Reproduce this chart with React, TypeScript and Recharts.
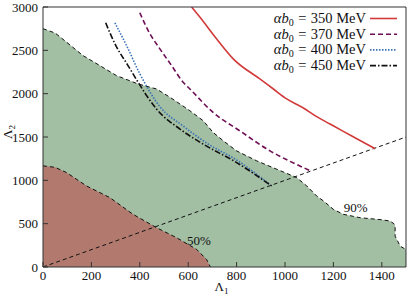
import React from 'react';
import { ComposedChart, Area, Line, XAxis, YAxis, ReferenceDot, Legend } from 'recharts';

const xTicks = [0, 200, 400, 600, 800, 1000, 1200, 1400];
const yTicks = [0, 500, 1000, 1500, 2000, 2500, 3000];

// 90% confidence region boundary [Λ1, Λ2]
const region90: [number, number][] = [
  [0, 2750], [50, 2700], [97, 2595], [165, 2440], [235, 2324], [304, 2208], [393, 2112],
  [469, 2054], [524, 1960], [607, 1803], [662, 1688], [703, 1553], [745, 1456], [800, 1340],
  [883, 1225], [966, 1128], [1048, 1032], [1090, 935], [1131, 819], [1160, 760], [1200, 665],
  [1241, 608], [1310, 569], [1400, 545], [1434, 530], [1450, 500], [1455, 472], [1455, 356],
  [1476, 240], [1500, 202],
];
// 50% confidence region boundary
const region50: [number, number][] = [
  [0, 1167], [50, 1150], [97, 1090], [180, 935], [276, 801], [372, 608], [469, 454],
  [552, 338], [635, 203], [676, 87], [690, 10], [692, 0],
];
const diagonal: [number, number][] = [[0, 0], [1500, 1500]];

const curve350: [number, number][] = [
  [614, 3000], [648, 2884], [717, 2633], [786, 2402], [896, 2170], [952, 2054], [1007, 1939],
  [1076, 1835], [1131, 1735], [1186, 1650], [1241, 1565], [1310, 1460], [1372, 1365],
];
const curve370: [number, number][] = [
  [400, 2934], [440, 2700], [483, 2517], [530, 2330], [579, 2132], [607, 2054], [703, 1784],
  [814, 1570], [938, 1340], [1020, 1220], [1110, 1105],
];
const curve400: [number, number][] = [
  [297, 2818], [345, 2556], [400, 2230], [483, 1850], [580, 1625], [676, 1430], [800, 1235],
  [940, 945],
];
const curve450: [number, number][] = [
  [259, 2818], [300, 2560], [350, 2330], [393, 2132], [430, 1970], [469, 1823], [566, 1591],
  [662, 1418], [800, 1205], [945, 935],
];

const legendLabels = ['350', '370', '400', '450'];
const legendColors = ['#d23a3a', '#6e0f55', '#3a72b4', '#111111'];
const legendDashes = ['', '5 3', '1.5 1.5', '6 2 1.5 2'];

const toPts = (a: [number, number][]) => a.map(([x, y]) => ({ x, y }));

const FONT = '"Liberation Serif", "DejaVu Serif", serif';

const LegendBox = () => (
  <div style={{ position: 'absolute', left: 0, top: 0, width: 407, height: 80, fontFamily: FONT, fontSize: 14.5, color: '#111' }}>
    {legendLabels.map((v, i) => (
      <div key={v} style={{ position: 'absolute', right: 407 - 366, top: 10 + i * 15.7, height: 16, lineHeight: '16px', whiteSpace: 'nowrap', textAlign: 'right' }}>
        <i>α</i><i>b</i><sub style={{ fontSize: 10, verticalAlign: '-3px' }}>0</sub>
        <span style={{ margin: '0 4.5px' }}>=</span>{v} MeV
      </div>
    ))}
    <svg style={{ position: 'absolute', left: 369, top: 10 }} width={30} height={66}>
      {legendLabels.map((v, i) => (
        <line key={v} x1={1} x2={28} y1={8.5 + i * 15.7} y2={8.5 + i * 15.7} stroke={legendColors[i]} strokeWidth={1.6} strokeDasharray={legendDashes[i] || undefined} />
      ))}
    </svg>
  </div>
);

const YLabel = (props: any) => {
  const vb = props.viewBox || {};
  const cy = (vb.y ?? 7) + (vb.height ?? 260) / 2 - 5;
  return (
    <text transform={`translate(12, ${cy}) rotate(-90)`} textAnchor="middle" fontFamily={FONT} fontSize={13} fill="#111">
      Λ<tspan fontSize={9} dy={3}>2</tspan>
    </text>
  );
};

const XLabel = (props: any) => {
  const vb = props.viewBox || {};
  const cx = (vb.x ?? 43) + (vb.width ?? 363) / 2;
  return (
    <text x={cx - 3} y={291} textAnchor="middle" fontFamily={FONT} fontSize={13} fill="#111">
      Λ<tspan fontSize={9} dy={3}>1</tspan>
    </text>
  );
};

export default function App() {
  const tickStyle = { fontFamily: FONT, fontSize: 13, fill: '#111' };
  return (
    <div style={{ position: 'absolute', left: 0, top: 0, width: 407, height: 295 }}>
      <ComposedChart width={407} height={295} margin={{ top: 6, right: 0, left: 0, bottom: 0 }}>
        <XAxis xAxisId="main" dataKey="x" type="number" domain={[0, 1500]} ticks={xTicks} allowDataOverflow
          height={28} tickSize={-5} tickMargin={9} tick={tickStyle} stroke="#333" interval={0}
          label={<XLabel />} />
        <XAxis xAxisId="top" orientation="top" dataKey="x" type="number" domain={[0, 1500]} ticks={xTicks} allowDataOverflow
          height={1} tickSize={-5} tick={false} stroke="#333" interval={0} />
        <YAxis yAxisId="main" dataKey="y" type="number" domain={[0, 3000]} ticks={yTicks} allowDataOverflow
          width={43} tickSize={-5} tickMargin={10} tick={tickStyle} stroke="#333" interval={0}
          label={<YLabel />} />
        <YAxis yAxisId="right" orientation="right" dataKey="y" type="number" domain={[0, 3000]} ticks={yTicks} allowDataOverflow
          width={1} tickSize={-5} tick={false} stroke="#333" interval={0} />

        <Area xAxisId="main" yAxisId="main" data={toPts(region90)} dataKey="y" type="linear" fill="#a2bea3" fillOpacity={1}
          stroke="#111" strokeWidth={1} strokeDasharray="4 3" isAnimationActive={false} dot={false} activeDot={false} />
        <Area xAxisId="main" yAxisId="main" data={toPts(region50)} dataKey="y" type="linear" fill="#b27a6f" fillOpacity={1}
          stroke="#111" strokeWidth={1} strokeDasharray="4 3" isAnimationActive={false} dot={false} activeDot={false} />
        <Line xAxisId="top" yAxisId="right" data={toPts(diagonal)} dataKey="y" type="linear" stroke="#111" strokeWidth={1}
          strokeDasharray="4 3" dot={false} activeDot={false} isAnimationActive={false} />

        <Line xAxisId="main" yAxisId="main" data={toPts(curve350)} dataKey="y" type="monotone" stroke={legendColors[0]} strokeWidth={1.6}
          dot={false} activeDot={false} isAnimationActive={false} />
        <Line xAxisId="main" yAxisId="main" data={toPts(curve370)} dataKey="y" type="monotone" stroke={legendColors[1]} strokeWidth={1.6}
          strokeDasharray={legendDashes[1]} dot={false} activeDot={false} isAnimationActive={false} />
        <Line xAxisId="main" yAxisId="main" data={toPts(curve400)} dataKey="y" type="monotone" stroke={legendColors[2]} strokeWidth={1.6}
          strokeDasharray={legendDashes[2]} dot={false} activeDot={false} isAnimationActive={false} />
        <Line xAxisId="main" yAxisId="main" data={toPts(curve450)} dataKey="y" type="monotone" stroke={legendColors[3]} strokeWidth={1.6}
          strokeDasharray={legendDashes[3]} dot={false} activeDot={false} isAnimationActive={false} />

        <ReferenceDot xAxisId="main" yAxisId="main" x={644} y={307} r={1} fill="none" stroke="none"
          label={{ value: '50%', position: 'center', fontFamily: FONT, fontSize: 13, fill: '#111' }} />
        <ReferenceDot xAxisId="main" yAxisId="main" x={1292} y={689} r={1} fill="none" stroke="none"
          label={{ value: '90%', position: 'center', fontFamily: FONT, fontSize: 13, fill: '#111' }} />

        <Legend layout="vertical" align="center" verticalAlign="middle" content={() => <LegendBox />}
          wrapperStyle={{ position: 'absolute', left: 0, top: 0, width: 407, height: 80 }} />
      </ComposedChart>
    </div>
  );
}
